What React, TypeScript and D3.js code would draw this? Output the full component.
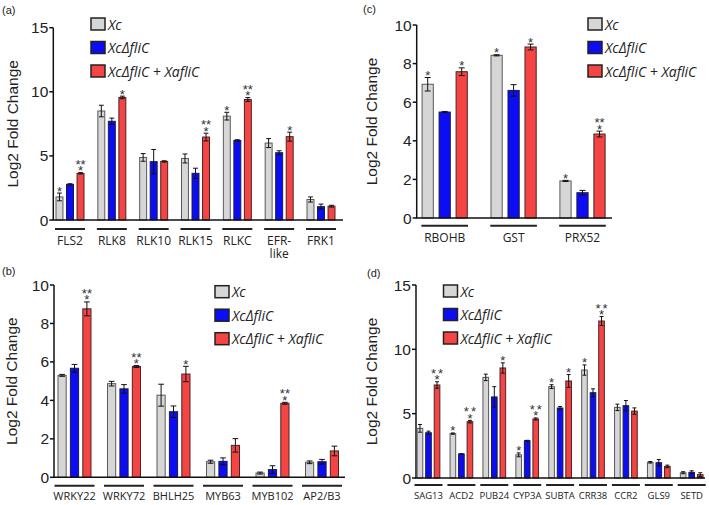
import React from 'react';
import * as d3 from 'd3';

// legend / series
const seriesNames = ['Xc', 'XcΔfliC', 'XcΔfliC + XafliC'];
const seriesFill = ['#d6d6d6', '#0c0cf5', '#f44444'];
const seriesStroke = ['#5a5a5a', '#1c1c40', '#4a2424'];

// (a) receptor genes
const genesA = ['FLS2', 'RLK8', 'RLK10', 'RLK15', 'RLKC', 'EFR-|like', 'FRK1'];
const xcA = [1.8, 8.5, 4.88, 4.8, 8.1, 6.0, 1.6];
const xcErrA = [0.3, 0.45, 0.3, 0.35, 0.3, 0.35, 0.2];
const dfA = [2.78, 7.7, 4.55, 3.64, 6.21, 5.25, 1.04];
const dfErrA = [0.05, 0.25, 0.95, 0.4, 0.05, 0.15, 0.2];
const compA = [3.64, 9.56, 4.57, 6.47, 9.4, 6.5, 1.08];
const compErrA = [0.05, 0.1, 0.05, 0.3, 0.15, 0.35, 0.07];
const starXcA = [1, 0, 0, 0, 1, 0, 0];
const starCompA = [2, 1, 0, 2, 2, 1, 0];
const ticksA = [0, 5, 10, 15];

// (b) transcription factors
const genesB = ['WRKY22', 'WRKY72', 'BHLH25', 'MYB63', 'MYB102', 'AP2/B3'];
const xcB = [5.3, 4.87, 4.27, 0.81, 0.22, 0.78];
const xcErrB = [0.05, 0.12, 0.57, 0.08, 0.05, 0.07];
const dfB = [5.67, 4.6, 3.41, 0.83, 0.4, 0.81];
const dfErrB = [0.2, 0.22, 0.3, 0.18, 0.2, 0.12];
const compB = [8.76, 5.76, 5.37, 1.66, 3.85, 1.37];
const compErrB = [0.36, 0.05, 0.4, 0.35, 0.05, 0.25];
const starXcB = [0, 0, 0, 0, 0, 0];
const starCompB = [2, 2, 1, 0, 2, 0];
const ticksB = [0, 2, 4, 6, 8, 10];

// (c) ROS genes
const genesC = ['RBOHB', 'GST', 'PRX52'];
const xcC = [6.93, 8.43, 1.92];
const xcErrC = [0.35, 0.03, 0.03];
const dfC = [5.49, 6.61, 1.31];
const dfErrC = [0.03, 0.3, 0.12];
const compC = [7.58, 8.86, 4.35];
const compErrC = [0.2, 0.15, 0.15];
const starXcC = [1, 1, 1];
const starCompC = [1, 1, 2];
const ticksC = [0, 2, 4, 6, 8, 10];

// (d) defence / senescence genes
const genesD = ['SAG13', 'ACD2', 'PUB24', 'CYP3A', 'SUBTA', 'CRR38', 'CCR2', 'GLS9', 'SETD'];
const xcD = [3.86, 3.45, 7.82, 1.8, 7.1, 8.39, 5.49, 1.22, 0.41];
const xcErrD = [0.3, 0.05, 0.25, 0.15, 0.15, 0.4, 0.25, 0.06, 0.08];
const dfD = [3.52, 1.87, 6.3, 2.9, 5.44, 6.63, 5.62, 1.19, 0.44];
const dfErrD = [0.12, 0.02, 0.8, 0.03, 0.12, 0.3, 0.4, 0.25, 0.12];
const compD = [7.23, 4.38, 8.55, 4.59, 7.54, 12.2, 5.2, 0.9, 0.26];
const compErrD = [0.25, 0.1, 0.4, 0.08, 0.5, 0.35, 0.25, 0.1, 0.15];
const starXcD = [0, 1, 0, 1, 1, 1, 0, 0, 0];
const starCompD = [2, 2, 1, 2, 1, 2, 0, 0, 0];
const ticksD = [0, 5, 10, 15];

interface PanelProps {
  tag: string;
  tagX: number;
  tagY: number;
  genes: string[];
  values: number[][];
  errors: number[][];
  stars: number[][];
  ticks: number[];
  x0: number;
  x1: number;
  yTop: number;
  yBot: number;
  c0: number;
  c1: number;
  groupW: number;
  lineW: number;
  lineY: number;
  labelY: number;
  labelSize: number;
  titleX: number;
  legX: number;
  legY: number;
  starGap?: number;
}

const Panel: React.FC<PanelProps> = (p) => {
  const maxV = p.ticks[p.ticks.length - 1];
  const y = d3.scaleLinear().domain([0, maxV]).range([p.yBot, p.yTop]);
  const x = d3.scalePoint<string>().domain(p.genes).range([p.c0, p.c1]);
  const inner = d3
    .scaleBand<number>()
    .domain([0, 1, 2])
    .range([-p.groupW / 2, p.groupW / 2])
    .paddingInner(0.34);
  const bw = inner.bandwidth();
  const capW = Math.min(bw * 0.7, 6);
  const tickFont = 'Liberation Sans, Arial, sans-serif';
  const labFont = '"Open Sans", "DejaVu Sans", sans-serif';
  const gap = p.starGap ?? 0;

  return (
    <g>
      <text x={p.tagX} y={p.tagY} fontSize={11} fontFamily={tickFont} fill="#222">
        {p.tag}
      </text>
      {/* y axis */}
      <line x1={p.x0} x2={p.x0} y1={y(maxV)} y2={y(0)} stroke="#111" strokeWidth={1.5} />
      {p.ticks.map((t) => (
        <g key={t}>
          <line x1={p.x0 - 4} x2={p.x0} y1={y(t)} y2={y(t)} stroke="#111" strokeWidth={1.5} />
          <text
            x={p.x0 - 5}
            y={y(t) + 5.5}
            textAnchor="end"
            fontSize={15.5}
            fontFamily={tickFont}
            fill="#222"
          >
            {t}
          </text>
        </g>
      ))}
      <text
        transform={`translate(${p.titleX},${(y(maxV) + y(0)) / 2}) rotate(-90)`}
        textAnchor="middle"
        fontSize={15.5}
        fontFamily={tickFont}
        fill="#222"
      >
        Log2 Fold Change
      </text>
      {/* bars */}
      {p.genes.map((g, gi) => (
        <g key={g} transform={`translate(${x(g)},0)`}>
          {p.values.map((vals, si) => {
            const v = vals[gi];
            const e = p.errors[si][gi];
            const bx = inner(si) ?? 0;
            const cx = bx + bw / 2;
            const st = p.stars[si][gi];
            const topY = y(v + e);
            const lowY = y(Math.max(0, v - e));
            return (
              <g key={si}>
                <rect
                  x={bx}
                  y={y(v)}
                  width={bw}
                  height={y(0) - y(v)}
                  fill={seriesFill[si]}
                  stroke={seriesStroke[si]}
                  strokeWidth={1}
                />
                <line x1={cx} x2={cx} y1={topY} y2={lowY} stroke="#111" strokeWidth={1} />
                <line x1={cx - capW / 2} x2={cx + capW / 2} y1={topY} y2={topY} stroke="#111" strokeWidth={1} />
                <line x1={cx - capW / 2} x2={cx + capW / 2} y1={lowY} y2={lowY} stroke="#111" strokeWidth={1} />
                {st === 1 && (
                  <text x={cx} y={topY + 2.5} textAnchor="middle" fontSize={13} fontFamily={tickFont} fill="#333">
                    *
                  </text>
                )}
                {st === 2 && (
                  <text textAnchor="middle" fontSize={13} fontFamily={tickFont} fill="#333">
                    <tspan x={cx + gap / 2} y={topY - 4} letterSpacing={gap}>
                      **
                    </tspan>
                    <tspan x={cx} y={topY + 2.5}>
                      *
                    </tspan>
                  </text>
                )}
              </g>
            );
          })}
          <line x1={-p.lineW / 2} x2={p.lineW / 2} y1={p.lineY} y2={p.lineY} stroke="#222" strokeWidth={2} />
          {g.split('|').map((part, li) => (
            <text
              key={li}
              x={0}
              y={p.labelY + li * 13}
              textAnchor="middle"
              fontSize={p.labelSize}
              fontFamily={labFont}
              fill="#222"
            >
              {part}
            </text>
          ))}
        </g>
      ))}
      {/* x axis */}
      <line x1={p.x0 - 0.75} x2={p.x1} y1={y(0)} y2={y(0)} stroke="#111" strokeWidth={1.5} />
      {/* legend */}
      {seriesNames.map((s, i) => (
        <g key={s} transform={`translate(${p.legX},${p.legY + i * 23.5})`}>
          <rect x={0} y={-6} width={14} height={12} fill={seriesFill[i]} stroke="#222" strokeWidth={1.5} />
          <text x={17} y={5.5} fontSize={14} fontStyle="italic" fontFamily={labFont} fill="#222">
            {s}
          </text>
        </g>
      ))}
    </g>
  );
};

export default function App() {
  return (
    <svg
      width={709}
      height={505}
      style={{ position: 'absolute', left: 0, top: 0, background: '#fff' }}
    >
      <Panel
        tag="(a)" tagX={2} tagY={14}
        genes={genesA}
        values={[xcA, dfA, compA]}
        errors={[xcErrA, dfErrA, compErrA]}
        stars={[starXcA, [0, 0, 0, 0, 0, 0, 0], starCompA]}
        ticks={ticksA}
        x0={53.3} x1={343} yTop={27.7} yBot={220}
        c0={70} c1={321} groupW={28}
        lineW={30} lineY={229} labelY={245} labelSize={12}
        titleX={18} legX={91} legY={24}
      />
      <Panel
        tag="(b)" tagX={2} tagY={275}
        genes={genesB}
        values={[xcB, dfB, compB]}
        errors={[xcErrB, dfErrB, compErrB]}
        stars={[starXcB, [0, 0, 0, 0, 0, 0], starCompB]}
        ticks={ticksB}
        x0={54} x1={345} yTop={285} yBot={477.3}
        c0={74.5} c1={322} groupW={33}
        lineW={40} lineY={485.7} labelY={500} labelSize={11}
        titleX={17} legX={215} legY={291.7}
      />
      <Panel
        tag="(c)" tagX={363} tagY={13}
        genes={genesC}
        values={[xcC, dfC, compC]}
        errors={[xcErrC, dfErrC, compErrC]}
        stars={[starXcC, [0, 0, 0], starCompC]}
        ticks={ticksC}
        x0={416.7} x1={612} yTop={25} yBot={218}
        c0={444.7} c1={582.5} groupW={45.2}
        lineW={46.6} lineY={225.7} labelY={242} labelSize={12}
        titleX={377} legX={588} legY={24}
      />
      <Panel
        tag="(d)" tagX={367} tagY={277}
        genes={genesD}
        values={[xcD, dfD, compD]}
        errors={[xcErrD, dfErrD, compErrD]}
        stars={[starXcD, [0, 0, 0, 0, 0, 0, 0, 0, 0], starCompD]}
        ticks={ticksD}
        x0={416} x1={705} yTop={285} yBot={478}
        c0={428.5} c1={691.7} groupW={22.7}
        lineW={28} lineY={485} labelY={499} labelSize={9.5}
        titleX={377} legX={443.5} legY={291}
        starGap={2}
      />
    </svg>
  );
}
